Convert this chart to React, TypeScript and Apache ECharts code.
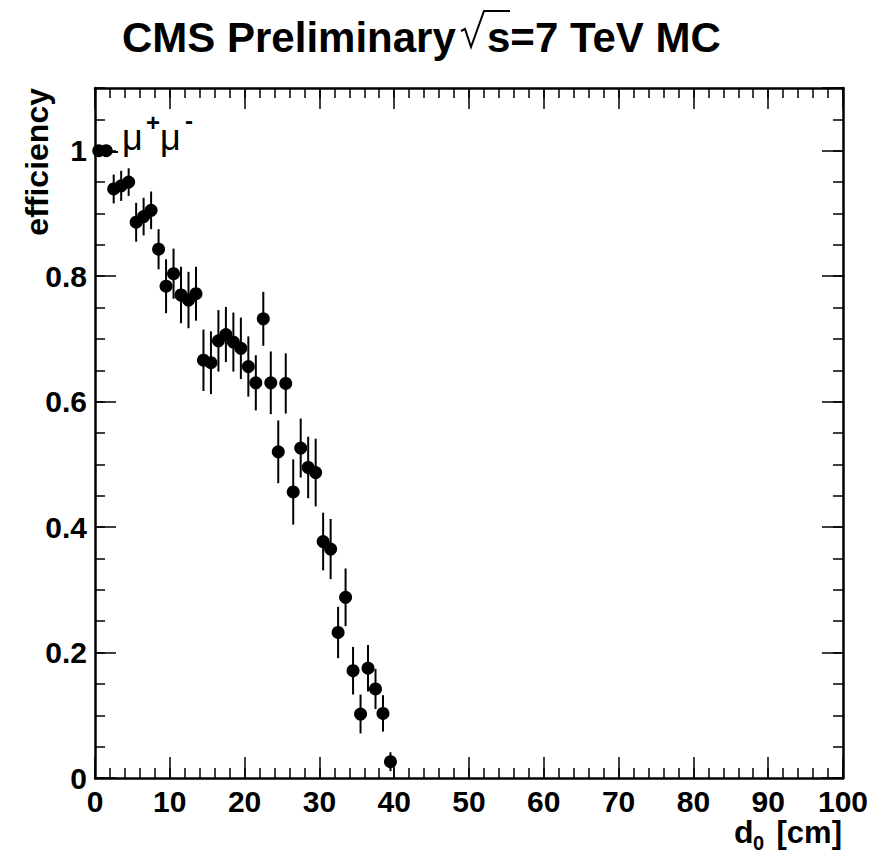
import React, { useEffect, useRef } from "react";
import * as echarts from "echarts";

// d0 bin centres [cm]
const binCenters = [
  0.5, 1.5, 2.5, 3.5, 4.5, 5.5, 6.5, 7.5, 8.5, 9.5,
  10.5, 11.5, 12.5, 13.5, 14.5, 15.5, 16.5, 17.5, 18.5, 19.5,
  20.5, 21.5, 22.5, 23.5, 24.5, 25.5, 26.5, 27.5, 28.5, 29.5,
  30.5, 31.5, 32.5, 33.5, 34.5, 35.5, 36.5, 37.5, 38.5, 39.5,
];
// efficiency values
const efficiency = [
  1.0, 1.0, 0.939, 0.944, 0.95, 0.886, 0.895, 0.905, 0.843, 0.784,
  0.804, 0.77, 0.762, 0.772, 0.666, 0.662, 0.697, 0.707, 0.695, 0.685,
  0.656, 0.63, 0.732, 0.63, 0.52, 0.629, 0.456, 0.526, 0.495, 0.487,
  0.377, 0.365, 0.232, 0.288, 0.171, 0.102, 0.175, 0.142, 0.103, 0.026,
];
// symmetric statistical errors
const errors = [
  0.0, 0.0, 0.023, 0.024, 0.022, 0.031, 0.03, 0.03, 0.032, 0.043,
  0.04, 0.045, 0.045, 0.043, 0.049, 0.05, 0.049, 0.044, 0.047, 0.049,
  0.048, 0.044, 0.043, 0.05, 0.05, 0.048, 0.052, 0.047, 0.049, 0.054,
  0.046, 0.048, 0.041, 0.046, 0.038, 0.031, 0.037, 0.032, 0.029, 0.015,
];

const xRange = [0, 100];
const yRange = [0, 1.1];
const yLabelValues = [0, 0.2, 0.4, 0.6, 0.8, 1];

const FONT = "'Liberation Sans', Arial, Helvetica, sans-serif";

export default function App() {
  const ref = useRef<HTMLDivElement>(null);

  useEffect(() => {
    if (!ref.current) return;
    const chart = echarts.init(ref.current, undefined, { renderer: "svg" });

    const pts = binCenters.map((x, i) => [x, efficiency[i], errors[i]]);

    const frameLine = { show: true, onZero: false, lineStyle: { color: "#000", width: 2.5 } };
    const noLine = { show: false, onZero: false };
    const tick = (len: number) => ({
      show: true,
      inside: true,
      length: len,
      lineStyle: { color: "#000", width: 1.5 },
    });

    const xBase = {
      type: "value" as const,
      min: xRange[0],
      max: xRange[1],
      splitLine: { show: false },
      gridIndex: 0,
    };
    const yBase = {
      type: "value" as const,
      min: yRange[0],
      max: yRange[1],
      splitLine: { show: false },
      gridIndex: 0,
    };

    const option: any = {
      animation: false,
      backgroundColor: "#fff",
      grid: { left: 95, top: 88, width: 748, height: 690 },
      xAxis: [
        {
          ...xBase,
          position: "bottom",
          interval: 10,
          axisLine: frameLine,
          axisTick: tick(21),
          axisLabel: {
            show: true,
            color: "#000",
            fontFamily: FONT,
            fontWeight: "bold",
            fontSize: 30,
            margin: 8,
          },
        },
        {
          ...xBase,
          position: "bottom",
          interval: 2,
          axisLine: noLine,
          axisTick: tick(10),
          axisLabel: { show: false },
        },
        {
          ...xBase,
          position: "top",
          interval: 10,
          axisLine: frameLine,
          axisTick: tick(21),
          axisLabel: { show: false },
        },
        {
          ...xBase,
          position: "top",
          interval: 2,
          axisLine: noLine,
          axisTick: tick(10),
          axisLabel: { show: false },
        },
      ],
      yAxis: [
        {
          ...yBase,
          position: "left",
          interval: 0.2,
          axisLine: frameLine,
          axisTick: tick(21),
          axisLabel: {
            show: true,
            color: "#000",
            fontFamily: FONT,
            fontWeight: "bold",
            fontSize: 30,
            margin: 8,
            showMaxLabel: false,
            formatter: (v: number) => {
              const hit = yLabelValues.find((t) => Math.abs(t - v) < 1e-6);
              return hit === undefined ? "" : String(hit);
            },
          },
        },
        {
          ...yBase,
          position: "left",
          interval: 0.05,
          axisLine: noLine,
          axisTick: tick(10),
          axisLabel: { show: false },
        },
        {
          ...yBase,
          position: "right",
          interval: 0.2,
          axisLine: frameLine,
          axisTick: tick(21),
          axisLabel: { show: false },
        },
        {
          ...yBase,
          position: "right",
          interval: 0.05,
          axisLine: noLine,
          axisTick: tick(10),
          axisLabel: { show: false },
        },
      ],
      series: [
        {
          type: "custom",
          xAxisIndex: 0,
          yAxisIndex: 0,
          encode: { x: 0, y: 1 },
          data: pts,
          z: 3,
          renderItem: (params: any, api: any) => {
            const x = api.value(0);
            const y = api.value(1);
            const e = api.value(2);
            if (!e) return null;
            const p1 = api.coord([x, y - e]);
            const p2 = api.coord([x, y + e]);
            return {
              type: "line",
              shape: { x1: p1[0], y1: p1[1], x2: p2[0], y2: p2[1] },
              style: { stroke: "#000", lineWidth: 2 },
            };
          },
        },
        {
          type: "scatter",
          xAxisIndex: 0,
          yAxisIndex: 0,
          data: pts.map((p) => [p[0], p[1]]),
          symbol: "circle",
          symbolSize: 13,
          itemStyle: { color: "#000", opacity: 1 },
          z: 4,
        },
      ],
      graphic: [
        // title
        {
          type: "text",
          left: 122,
          top: 16,
          style: {
            text: "CMS Preliminary",
            fill: "#000",
            font: `bold 42px ${FONT}`,
          },
        },
        {
          type: "polyline",
          shape: {
            points: [
              [461, 31],
              [465, 29],
              [471, 47],
              [484, 11],
              [510, 11],
            ],
          },
          style: { stroke: "#000", lineWidth: 2, fill: "none" },
        },
        {
          type: "text",
          left: 487,
          top: 16,
          style: {
            text: "s=7 TeV MC",
            fill: "#000",
            font: `bold 42px ${FONT}`,
          },
        },
        // y title
        {
          type: "text",
          x: 37,
          y: 88,
          rotation: Math.PI / 2,
          style: {
            text: "efficiency",
            fill: "#000",
            font: `bold 32px ${FONT}`,
            textAlign: "right",
            textVerticalAlign: "middle",
          },
        },
        // x title
        {
          type: "text",
          x: 734,
          y: 832,
          style: {
            text: "d",
            fill: "#000",
            font: `bold 32px ${FONT}`,
            textAlign: "left",
            textVerticalAlign: "middle",
          },
        },
        {
          type: "text",
          x: 753,
          y: 843,
          style: {
            text: "0",
            fill: "#000",
            font: `bold 20px ${FONT}`,
            textAlign: "left",
            textVerticalAlign: "middle",
          },
        },
        {
          type: "text",
          x: 842,
          y: 832,
          style: {
            text: "[cm]",
            fill: "#000",
            font: `bold 31px ${FONT}`,
            textAlign: "right",
            textVerticalAlign: "middle",
          },
        },
        // legend
        {
          type: "line",
          shape: { x1: 111, y1: 152, x2: 118, y2: 152 },
          style: { stroke: "#000", lineWidth: 2 },
        },
        {
          type: "text",
          x: 122,
          y: 137,
          style: {
            text: "μ",
            fill: "#000",
            font: `36px ${FONT}`,
            textAlign: "left",
            textVerticalAlign: "middle",
          },
        },
        {
          type: "text",
          x: 153,
          y: 122,
          style: {
            text: "+",
            fill: "#000",
            font: `bold 24px ${FONT}`,
            textAlign: "center",
            textVerticalAlign: "middle",
          },
        },
        {
          type: "text",
          x: 160,
          y: 137,
          style: {
            text: "μ",
            fill: "#000",
            font: `36px ${FONT}`,
            textAlign: "left",
            textVerticalAlign: "middle",
          },
        },
        {
          type: "text",
          x: 189,
          y: 120,
          style: {
            text: "-",
            fill: "#000",
            font: `bold 24px ${FONT}`,
            textAlign: "center",
            textVerticalAlign: "middle",
          },
        },
      ],
    };

    chart.setOption(option);
    return () => chart.dispose();
  }, []);

  return (
    <div
      ref={ref}
      style={{ position: "absolute", left: 0, top: 0, width: 886, height: 853 }}
    />
  );
}
